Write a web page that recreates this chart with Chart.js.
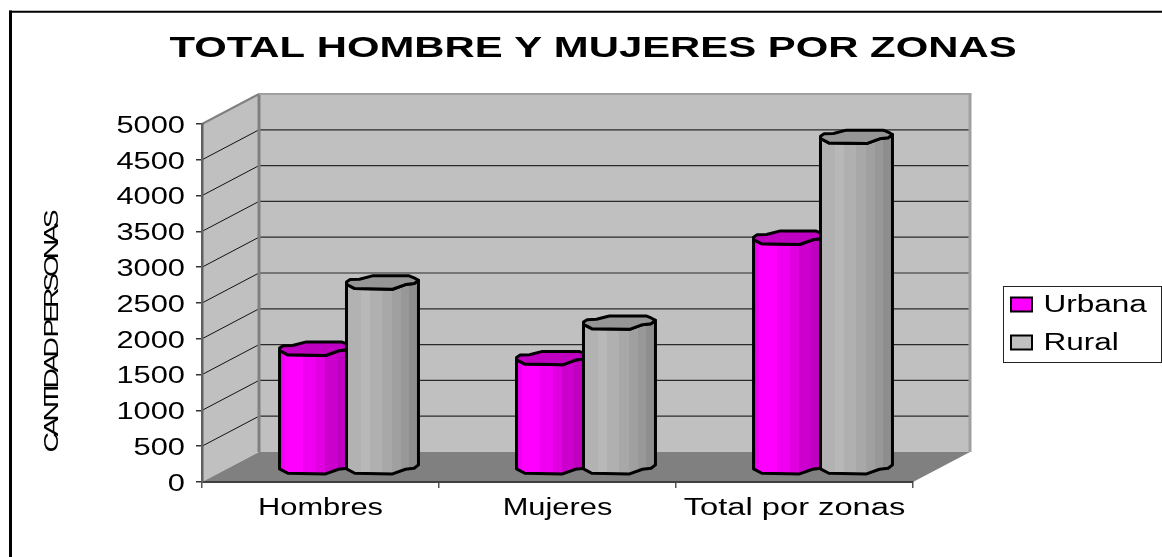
<!DOCTYPE html>
<html>
<head>
<meta charset="utf-8">
<style>html,body{margin:0;padding:0;background:#fff}canvas{display:block}</style>
<script src="https://cdn.jsdelivr.net/npm/chart.js@4/dist/chart.umd.min.js"></script>
</head>
<body>
<canvas id="c" width="1162" height="557"></canvas>
<script>
const categories = ['Hombres', 'Mujeres', 'Total por zonas'];
const urbana = [1665, 1535, 3215];
const rural = [2590, 2030, 4625];
const chartTitle = 'TOTAL HOMBRE Y MUJERES POR ZONAS';
const yTitle = 'CANTIDAD PERSONAS';
const legendNames = ['Urbana', 'Rural'];

const DX = 57, DY = 30, BAR_DY = 14;
const FAM = '"Liberation Sans", Arial, sans-serif';

const textSpec = t => {
  if (t === chartTitle) return {sx: 1.395, ls: '0px', dx: 0, dy: 0};
  if (t === yTitle) return {sx: 1.35, ls: '-3.1px', dx: -30, dy: 0};
  if (legendNames.includes(t)) return {sx: 1.37, ls: '0px', dx: 0, dy: 1};
  if (t === categories[2]) return {sx: 1.42, ls: '0px', dx: 0, dy: 0};
  if (/^\d+$/.test(t)) return {sx: 1.34, ls: '0px', dx: 0, dy: 2.5};
  return {sx: 1.34, ls: '0px', dx: 0, dy: 0};
};

const FRONT = [[0,.25],[.115,.9],[.64,1],[.82,.3],[.94,.15],[1,-.35]];
const BACK = [[0,-.1],[.05,-.45],[.18,-.5],[.36,-1],[.87,-1],[.94,-.7],[1,-.35]];
const HH = 6.7;
const BANDS = [
  {top:'#c000c0', stops:[[0,'#f000f0'],[.08,'#ff00ff'],[.33,'#f000f0'],[.5,'#e000e0'],[.63,'#cc00cc'],[.8,'#c000c0'],[1,'#bb00bb']]},
  {top:'#969696', stops:[[0,'#b2b2b2'],[.2,'#b8b8b8'],[.32,'#b0b0b0'],[.5,'#a8a8a8'],[.63,'#a0a0a0'],[.76,'#989898'],[.87,'#8e8e8e'],[1,'#8e8e8e']]}
];

function drawCylinder(ctx, x, yTop, yBase, w, look) {
  const x0 = x - w / 2;
  const fx = p => x0 + p[0] * w;
  ctx.save();
  ctx.lineJoin = 'round';
  ctx.lineWidth = 3;
  ctx.strokeStyle = '#000';
  const g = ctx.createLinearGradient(x0, 0, x0 + w, 0);
  look.stops.forEach((s, i) => {
    g.addColorStop(s[0], s[1]);
    if (i + 1 < look.stops.length) g.addColorStop(look.stops[i + 1][0], s[1]);
  });
  ctx.beginPath();
  FRONT.forEach((p, i) => { const y = yBase + p[1] * HH; i ? ctx.lineTo(fx(p), y) : ctx.moveTo(fx(p), y); });
  for (let i = FRONT.length - 1; i >= 0; i--) ctx.lineTo(fx(FRONT[i]), yTop + FRONT[i][1] * HH);
  ctx.closePath();
  ctx.fillStyle = g;
  ctx.fill();
  ctx.stroke();
  ctx.beginPath();
  FRONT.forEach((p, i) => { const y = yTop + p[1] * HH; i ? ctx.lineTo(fx(p), y) : ctx.moveTo(fx(p), y); });
  for (let i = BACK.length - 1; i >= 0; i--) ctx.lineTo(fx(BACK[i]), yTop + BACK[i][1] * HH);
  ctx.closePath();
  ctx.fillStyle = look.top;
  ctx.fill();
  ctx.stroke();
  ctx.restore();
}

const poly = (ctx, pts, fill) => {
  ctx.beginPath();
  pts.forEach((p, i) => i ? ctx.lineTo(p[0], p[1]) : ctx.moveTo(p[0], p[1]));
  ctx.closePath();
  ctx.fillStyle = fill;
  ctx.fill();
};
const seg = (ctx, x1, y1, x2, y2, color, w) => {
  ctx.beginPath(); ctx.moveTo(x1, y1); ctx.lineTo(x2, y2);
  ctx.strokeStyle = color; ctx.lineWidth = w; ctx.stroke();
};

const scene = {
  id: 'scene3d',
  afterLayout(chart) {
    const t = chart.titleBlock;
    t.left = 0; t.right = 1186; t.width = 1186; t.top = 31; t.bottom = 67;
    const l = chart.legend;
    l.left = 996; l.top = 278; l.right = 1162; l.bottom = 400; l.width = 166; l.height = 122;
  },
  beforeDraw(chart) {
    const ctx = chart.ctx;
    if (!ctx._stretched) {
      const orig = ctx.fillText.bind(ctx);
      ctx.fillText = function (text, x, y) {
        const s = textSpec(String(text));
        ctx.save();
        ctx.translate(x + s.dx, y + s.dy);
        ctx.scale(s.sx, 1);
        ctx.letterSpacing = s.ls;
        orig(text, 0, 0);
        ctx.restore();
      };
      ctx._stretched = true;
    }
    const {left, right} = chart.chartArea;
    const sy = chart.scales.y;
    const y0 = sy.getPixelForValue(sy.min), yT = sy.getPixelForValue(sy.max);
    ctx.save();
    // white page + frame
    ctx.fillStyle = '#fff'; ctx.fillRect(0, 0, chart.width, chart.height);
    seg(ctx, 10.5, 10.5, 10.5, 557, '#000', 3);
    seg(ctx, 9, 11.7, 1162, 11.7, '#000', 2);
    // walls and floor
    poly(ctx, [[left + DX, yT - DY], [right + DX, yT - DY], [right + DX, y0 - DY], [left + DX, y0 - DY]], '#c0c0c0');
    poly(ctx, [[left, yT], [left + DX, yT - DY], [left + DX, y0 - DY], [left, y0]], '#c0c0c0');
    poly(ctx, [[left, y0], [left + DX, y0 - DY], [right + DX, y0 - DY], [right, y0]], '#808080');
    // gridlines following the wall corner
    sy.ticks.forEach(t => {
      const y = sy.getPixelForValue(t.value);
      if (t.value > sy.min && t.value < sy.max) {
        seg(ctx, left, y, left + DX, y - DY, '#111', 1);
        seg(ctx, left + DX, y - DY, right + DX, y - DY, '#2a2a2a', 1.2);
      }
    });
    seg(ctx, left + DX, yT - DY, left + DX, y0 - DY, '#808080', 3);
    seg(ctx, left, yT, left + DX, yT - DY, '#808080', 2);
    seg(ctx, left + DX, yT - DY, right + DX + 1.5, yT - DY, '#a0a0a0', 2);
    seg(ctx, right + DX, yT - DY, right + DX, y0 - DY, '#a0a0a0', 3);
    // legend frame
    ctx.fillStyle = '#fff';
    ctx.fillRect(1003.5, 286.5, 158, 76);
    ctx.strokeStyle = '#222'; ctx.lineWidth = 1;
    ctx.strokeRect(1003.5, 286.5, 158, 76);
    ctx.restore();
  },
  beforeDatasetDraw() { return false; },
  afterDatasetsDraw(chart) {
    const ctx = chart.ctx;
    categories.forEach((c, i) => {
      chart.data.datasets.forEach((ds, d) => {
        const el = chart.getDatasetMeta(d).data[i];
        const p = el.getProps(['x', 'y', 'base', 'width'], true);
        drawCylinder(ctx, p.x + DX / 2, p.y - BAR_DY, p.base - BAR_DY, p.width, BANDS[d]);
      });
    });
  }
};

new Chart(document.getElementById('c'), {
  type: 'bar',
  data: {
    labels: categories,
    datasets: [
      {label: legendNames[0], data: urbana, backgroundColor: '#ff00ff', borderColor: '#000', borderWidth: 2, categoryPercentage: 0.565, barPercentage: 1.075},
      {label: legendNames[1], data: rural, backgroundColor: '#c0c0c0', borderColor: '#000', borderWidth: 2, categoryPercentage: 0.565, barPercentage: 1.075}
    ]
  },
  plugins: [scene],
  options: {
    responsive: false,
    animation: false,
    layout: {padding: {left: 0, right: 249, top: 88, bottom: 0}},
    plugins: {
      tooltip: {enabled: false},
      title: {display: true, text: chartTitle, color: '#000', padding: 0,
        font: {family: FAM, size: 30, weight: 'bold', lineHeight: 1.2}},
      legend: {position: 'chartArea', align: 'start',
        labels: {boxWidth: 21, boxHeight: 14, padding: 15, color: '#000', font: {family: FAM, size: 23}}}
    },
    scales: {
      x: {
        afterFit(s) { s.height = 75; },
        border: {color: '#404040', width: 2},
        grid: {drawOnChartArea: false, drawTicks: true, tickLength: 6, color: '#555', lineWidth: 1.5},
        ticks: {color: '#000', padding: 7, maxRotation: 0, autoSkip: false, font: {family: FAM, size: 23}}
      },
      y: {
        min: 0, max: 5000,
        afterFit(s) { s.width = 202; },
        border: {color: '#606060', width: 2.5},
        grid: {drawOnChartArea: false, drawTicks: true, tickLength: 6, color: '#333', lineWidth: 1.5},
        ticks: {stepSize: 500, color: '#000', padding: 11, font: {family: FAM, size: 23},
          callback: v => String(v)},
        title: {display: true, text: yTitle, color: '#000', padding: {top: 40, bottom: 0},
          font: {family: FAM, size: 21, lineHeight: 1.2}}
      }
    }
  }
});
</script>
</body>
</html>
